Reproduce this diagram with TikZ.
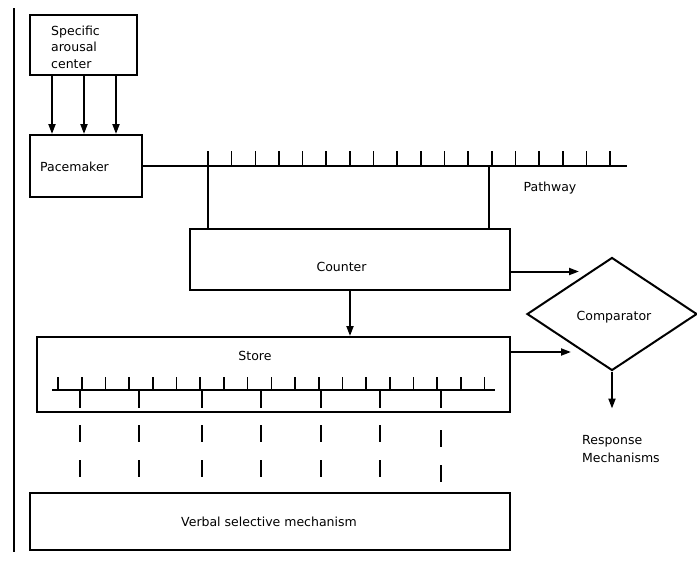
\documentclass[tikz,border=0pt]{standalone}
\usepackage{fontspec}
\setmainfont{DejaVu Sans}
\usetikzlibrary{arrows.meta,shapes.geometric}
\begin{document}
\begin{tikzpicture}[x=1pt,y=-1pt,
  box/.style={draw,line width=2pt,inner sep=0pt,rectangle},
  txt/.style={font=\fontsize{12.5}{16.5}\selectfont,inner sep=0pt},
  ln/.style={line width=2pt},
  tk/.style={line width=1.6pt},
  arr/.style={line width=2pt,-{Triangle[length=10pt,width=7pt]}}]
\useasboundingbox (0,0) rectangle (697,566);
% left border
\draw[line width=2.2pt] (14,8) coordinate (bt) -- (14,552) coordinate (bb);
% boxes
\node[box,minimum width=107pt,minimum height=60pt] (sac) at (83.5,45) {};
\node[txt,anchor=west,align=left] (sact) at (51,47) {Specific\\arousal\\center};
\node[box,minimum width=112pt,minimum height=62pt] (pm) at (86,166) {};
\node[txt,anchor=west] (pmt) at (40,167) {Pacemaker};
\node[box,minimum width=320pt,minimum height=61pt] (counter) at (350,259.5) {};
\node[txt] (countert) at (341.5,267) {Counter};
\node[box,minimum width=473pt,minimum height=75pt] (store) at (273.5,374.5) {};
\node[txt] (storet) at (255,356) {Store};
\node[box,minimum width=480pt,minimum height=57pt] (verbal) at (270,521.5) {};
\node[txt] (verbalt) at (269,522) {Verbal selective mechanism};
\node[draw,line width=2pt,diamond,aspect=1.5,minimum width=170pt,minimum height=113pt,inner sep=0pt] (cmp) at (612,314) {};
\node[txt] (cmpt) at (614,317) {Comparator};
\node[txt,anchor=west,align=left,font=\fontsize{12.5}{18}\selectfont] (resp) at (582,449) {Response\\Mechanisms};
\node[txt] (path) at (550,188) {Pathway};
% arousal arrows
\foreach \dx in {-31.5,0.5,32.5}
  \draw[arr] ([xshift=\dx pt]sac.south) -- ([xshift=\dx pt]sac.south |- pm.north);
% pathway
\coordinate (pend) at (627,166);
\draw[ln] (pm.east) -- (pend);
\foreach \i in {0,...,17}
  \draw[tk] ({208+23.65*\i},166) -- ({208+23.65*\i},151);
\coordinate (p1) at (208,166);
\coordinate (p2) at (489,166);
\draw[ln] (p1) -- (p1 |- counter.north);
\draw[ln] (p2) -- (p2 |- counter.north);
% counter connections
\draw[arr] (counter.south) -- (counter.south |- store.north);
\draw[arr] ([yshift=-12pt]counter.east) -- ++(68pt,0);
\draw[arr] ([yshift=22.5pt]store.east) -- ++(60pt,0);
\draw[arr] (cmp.south) -- ++(0,37);
% store scale
\coordinate (s1) at (52,390);
\coordinate (s2) at (495,390);
\draw[ln] (s1) -- (s2);
\foreach \i in {0,...,18}
  \draw[tk] ({58+23.7*\i},390) -- ({58+23.7*\i},377);
\foreach \x in {80,139,202,261,321,380}{
  \draw[tk] (\x,390) -- (\x,408);
  \draw[tk] (\x,425) -- (\x,442);
  \draw[tk] (\x,460) -- (\x,477);
}
\draw[tk] (441,390) -- (441,408);
\draw[tk] (441,430) -- (441,447);
\draw[tk] (441,465) -- (441,482);
\end{tikzpicture}
\end{document}
